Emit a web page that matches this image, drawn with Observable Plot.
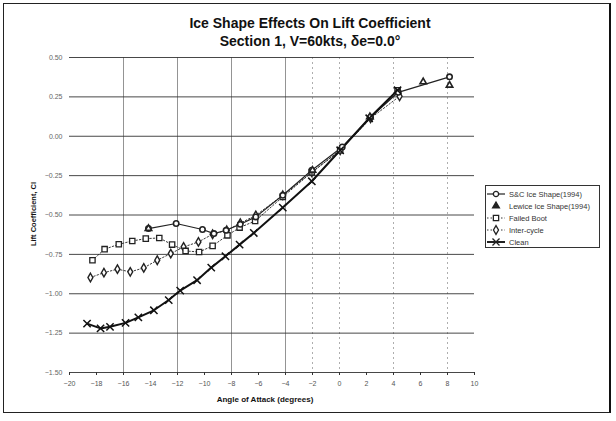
<!DOCTYPE html>
<html><head><meta charset="utf-8">
<script src="https://cdn.jsdelivr.net/npm/d3@7"></script>
<script src="https://cdn.jsdelivr.net/npm/@observablehq/plot@0.6"></script>
<style>
body{margin:0;background:#fff;}
#wrap{position:relative;width:616px;height:421px;overflow:hidden;font-family:"Liberation Sans",Arial,sans-serif;background:#fff;}
#chart{position:absolute;left:0;top:0;}
.title{position:absolute;left:0;width:620px;text-align:center;font-weight:bold;font-size:14px;color:#111;white-space:nowrap;}
#ylab{position:absolute;left:33px;top:214px;transform:translate(-50%,-50%) rotate(-90deg);font-weight:bold;font-size:7.5px;color:#111;white-space:nowrap;}
#xlab{position:absolute;left:265px;top:399px;transform:translate(-50%,-50%);font-weight:bold;font-size:8px;color:#111;white-space:nowrap;}
#legend{position:absolute;left:485px;top:185px;width:115px;height:63px;border:1px solid #333;box-sizing:border-box;background:#fff;font-size:7.5px;color:#333;}
#legend .row{position:absolute;left:0;height:12px;display:flex;align-items:center;white-space:nowrap;}
#legend svg{margin-right:2px;}
#border{position:absolute;left:3px;top:3px;width:608px;height:410px;border:1px solid #222;border-right:2px solid #111;box-sizing:border-box;pointer-events:none;}
</style>
</head><body>
<div id="wrap">
  <div id="border"></div>
  <div class="title" style="top:15px">Ice Shape Effects On Lift Coefficient</div>
  <div class="title" style="top:33px">Section 1, V=60kts, δe=0.0°</div>
  <div id="chart"></div>
  <div id="ylab">Lift Coefficient, Cl</div>
  <div id="xlab">Angle of Attack (degrees)</div>
  <div id="legend"></div>
</div>
<script>
// ---- data ----
const cleanAoA = [-18.7,-17.7,-17.0,-15.85,-14.9,-13.75,-12.65,-11.8,-10.55,-9.5,-8.45,-7.4,-6.35,-4.2,-2.05,0.05,2.2,4.3];
const cleanCl  = [-1.19,-1.22,-1.21,-1.185,-1.15,-1.105,-1.04,-0.98,-0.914,-0.834,-0.762,-0.688,-0.614,-0.453,-0.286,-0.089,0.114,0.292];

const scAoA = [-14.15,-12.1,-10.15,-9.3,-8.4,-7.35,-6.2,-4.2,-2.05,0.2,2.3,4.35,8.15];
const scCl  = [-0.586,-0.554,-0.592,-0.618,-0.597,-0.559,-0.512,-0.375,-0.216,-0.068,0.121,0.279,0.377];

const lewiceAoA = [-14.15,-2.0,2.25,6.2,8.15];
const lewiceCl  = [-0.586,-0.216,0.123,0.345,0.324];

const failedAoA = [-18.3,-17.4,-16.35,-15.35,-14.35,-13.35,-12.4,-11.4,-10.4,-9.4,-8.3,-7.4,-6.25,-4.2,-2.05,0.05,4.3];
const failedCl  = [-0.787,-0.717,-0.686,-0.665,-0.650,-0.646,-0.688,-0.728,-0.735,-0.696,-0.629,-0.580,-0.538,-0.385,-0.229,-0.089,0.292];

const interAoA = [-18.45,-17.45,-16.45,-15.5,-14.5,-13.5,-12.5,-11.55,-10.45,-9.4,-8.35,-7.35,-6.2,-4.2,-2.05,0.05,2.3,4.45];
const interCl  = [-0.897,-0.866,-0.844,-0.861,-0.836,-0.787,-0.745,-0.703,-0.671,-0.622,-0.597,-0.552,-0.502,-0.375,-0.229,-0.089,0.114,0.254];

const xTicks = [-20,-18,-16,-14,-12,-10,-8,-6,-4,-2,0,2,4,6,8,10];
const xGridSolid = [-16,-12,-8,-4];
const xGridDotted = [-2,0,4,8];
const yTicks = [0.5,0.25,0,-0.25,-0.5,-0.75,-1,-1.25,-1.5];
const seriesNames = ["S&C Ice Shape(1994)","Lewice Ice Shape(1994)","Failed Boot","Inter-cycle","Clean"];

const toRows = (xs, ys) => xs.map((x, i) => ({x, y: ys[i]}));
const clean = toRows(cleanAoA, cleanCl);
const sc = toRows(scAoA, scCl);
const lewice = toRows(lewiceAoA, lewiceCl);
const failed = toRows(failedAoA, failedCl);
const inter = toRows(interAoA, interCl);

const ink = "#222";
const chart = Plot.plot({
  width: 616, height: 421,
  marginTop: 57, marginBottom: 49, marginLeft: 69, marginRight: 142,
  style: {background: "transparent", fontFamily: "Liberation Sans, Arial, sans-serif"},
  x: {domain: [-20, 10]},
  y: {domain: [-1.5, 0.5]},
  marks: [
    Plot.ruleX(xGridSolid, {stroke: "#888", strokeWidth: 0.9}),
    Plot.ruleX(xGridDotted, {stroke: "#999", strokeWidth: 0.8, strokeDasharray: "2,3"}),
    Plot.ruleY(yTicks, {stroke: "#333", strokeWidth: 0.9}),
    Plot.axisX({ticks: xTicks, tickSize: 3, tickPadding: 6, fontSize: 7, fill: "#555", stroke: "#333", label: null}),
    Plot.axisY({ticks: yTicks, tickSize: 0, tickPadding: 7, fontSize: 7, fill: "#666", tickFormat: d3.format(".2f"), label: null}),
    Plot.line(inter, {x: "x", y: "y", stroke: ink, strokeWidth: 0.9, strokeDasharray: "1.5,2"}),
    Plot.line(failed, {x: "x", y: "y", stroke: ink, strokeWidth: 0.9, strokeDasharray: "1.5,2"}),
    Plot.line(sc, {x: "x", y: "y", stroke: ink, strokeWidth: 1.2}),
    Plot.line(clean, {x: "x", y: "y", stroke: "#111", strokeWidth: 2}),
    Plot.dot(inter, {x: "x", y: "y", symbol: "diamond", r: 2.6, stroke: ink, strokeWidth: 1.4, fill: "white"}),
    Plot.dot(failed, {x: "x", y: "y", symbol: "square", r: 3, stroke: ink, strokeWidth: 1.3, fill: "white"}),
    Plot.dot(sc, {x: "x", y: "y", symbol: "circle", r: 2.7, stroke: ink, strokeWidth: 1.6, fill: "white"}),
    Plot.dot(lewice, {x: "x", y: "y", symbol: "triangle", r: 2.4, stroke: ink, strokeWidth: 1.6, fill: "white"}),
    Plot.dot(clean, {x: "x", y: "y", symbol: "times", r: 3.4, stroke: "#111", strokeWidth: 1.5})
  ]
});
document.getElementById("chart").appendChild(chart);

// legend
const legendSpec = [
  {dash: null, w: 1.2, sym: "circle"},
  {dash: "none", w: 0, sym: "triangle"},
  {dash: "1.5,2", w: 0.9, sym: "square"},
  {dash: "1.5,2", w: 0.9, sym: "diamond"},
  {dash: null, w: 2, sym: "times"}
];
const symPath = {
  circle: d3.symbol(d3.symbolCircle, 22)(),
  triangle: d3.symbol(d3.symbolTriangle, 20)(),
  square: d3.symbol(d3.symbolSquare, 28)(),
  diamond: d3.symbol(d3.symbolDiamond, 22)(),
  times: d3.symbol(d3.symbolTimes, 34)()
};
const leg = document.getElementById("legend");
seriesNames.forEach((name, i) => {
  const s = legendSpec[i];
  const row = document.createElement("div");
  row.className = "row";
  row.style.top = (2 + i * 12) + "px";
  const line = s.w > 0 ? `<line x1="1" x2="19" y1="6" y2="6" stroke="#222" stroke-width="${s.w}" ${s.dash ? `stroke-dasharray="${s.dash}"` : ""}/>` : "";
  const fill = s.sym === "times" ? "none" : (s.sym === "triangle" ? "#222" : "white");
  row.innerHTML = `<svg width="21" height="12">${line}<path transform="translate(10,6)" d="${symPath[s.sym]}" fill="${fill}" stroke="#222" stroke-width="1.3"/></svg><span>${name}</span>`;
  leg.appendChild(row);
});
</script>
</body></html>
